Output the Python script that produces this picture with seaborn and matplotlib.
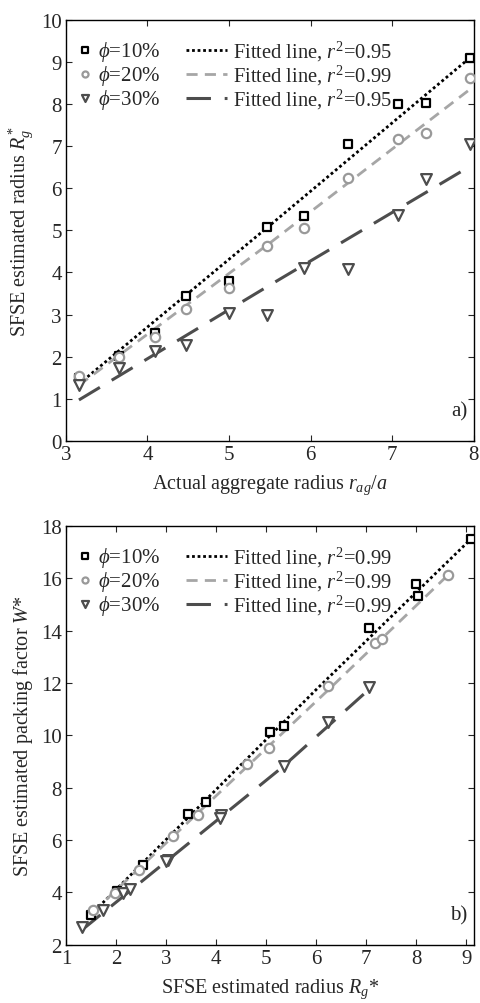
import numpy as np
import pandas as pd
import matplotlib
matplotlib.use("Agg")
import matplotlib.pyplot as plt
import seaborn as sns

# ── Data ─────────────────────────────────────────────────────────────────────
r_ag = [3.16, 3.65, 4.09, 4.47, 5.0, 5.47, 5.92, 6.46, 7.07, 7.42, 7.95]

rg_10 = [1.50, 2.02, 2.55, 3.44, 3.80, 5.08, 5.35, 7.05, 8.00, 8.03, 9.09]
rg_20 = [1.55, 1.98, 2.47, 3.14, 3.64, 4.62, 5.05, 6.24, 7.18, 7.32, 8.63]
rg_30 = [1.32, 1.74, 2.14, 2.28, 3.04, 3.00, 4.10, 4.08, 5.36, 6.23, 7.05]

w_10 = [3.12, 4.07, 5.03, 7.00, 7.45, 10.14, 10.37, 14.09, 15.78, 15.33, 17.52]
w_20 = [3.31, 3.98, 4.86, 6.17, 6.97, 8.91, 9.52, 11.90, 13.55, 13.68, 16.12]
w_30 = [2.67, 3.31, 3.98, 4.14, 5.25, 5.20, 6.95, 6.85, 8.85, 10.50, 11.85]

# fitted lines (end / mid points as drawn)
fit_a_x = [3.16, 5.5, 7.95]
fit_a_10 = [1.35, 5.12, 9.10]
fit_a_20 = [1.32, 4.70, 8.35]
fit_a_30 = [0.97, 3.70, 6.52]

fit_b_10_x = [1.50, 6.00, 9.09]
fit_b_10 = [3.15, 11.75, 17.50]
fit_b_20_x = [1.54, 6.26, 8.63]
fit_b_20 = [3.25, 11.77, 16.12]
fit_b_30_x = [1.31, 5.32, 7.08]
fit_b_30 = [2.55, 8.78, 11.80]

r2_a = ["0.95", "0.99", "0.95"]
r2_b = ["0.99", "0.99", "0.99"]
phi_labels = [r"$\phi$=10%", r"$\phi$=20%", r"$\phi$=30%"]

# ── Style ────────────────────────────────────────────────────────────────────
sns.set_style("ticks")
plt.rcParams["font.family"] = ["Liberation Serif", "DejaVu Serif"]
plt.rcParams["mathtext.fontset"] = "custom"
plt.rcParams["mathtext.rm"] = "Liberation Serif"
plt.rcParams["mathtext.it"] = "Liberation Serif:italic"
plt.rcParams["font.size"] = 15

MARKERS = ["s", "o", "v"]
MCOLORS = ["#000000", "#999999", "#4d4d4d"]
MSIZES = [38, 45, 60]
LCOLORS = ["#000000", "#a6a6a6", "#4d4d4d"]
LSTYLES = [(0, (1, 1)), (0, (4, 2.6)), (0, (8, 4.5))]
LWIDTHS = [2.0, 2.0, 2.2]


def draw_panel(ax, xs, ys, fits, r2, xlim, ylim, xticks, yticks, xlabel, ylabel, tag):
    for i in range(3):
        df = pd.DataFrame({"x": xs[i], "y": ys[i]})
        sns.scatterplot(data=df, x="x", y="y", ax=ax, marker=MARKERS[i], s=MSIZES[i],
                        facecolor="white", edgecolor=MCOLORS[i], linewidth=1.6,
                        label=phi_labels[i], zorder=3)
    for i in range(3):
        fx, fy = fits[i]
        sns.lineplot(x=fx, y=fy, ax=ax, color=LCOLORS[i], linestyle=LSTYLES[i],
                     linewidth=LWIDTHS[i], label=f"Fitted line, $r^2$={r2[i]}", zorder=2)

    handles, labels = ax.get_legend_handles_labels()
    leg1 = ax.legend(handles[:3], labels[:3], loc="upper left", frameon=False,
                     bbox_to_anchor=(-0.02, 1.0), handlelength=0.8, handletextpad=0.25,
                     labelspacing=0.0, borderaxespad=0.5, fontsize=15, markerscale=0.65)
    ax.add_artist(leg1)
    ax.legend(handles[3:], labels[3:], loc="upper left", frameon=False,
              bbox_to_anchor=(0.25, 1.0), handlelength=2.0, handletextpad=0.25,
              labelspacing=0.0, borderaxespad=0.5, fontsize=14.8)

    ax.set_xlim(*xlim)
    ax.set_ylim(*ylim)
    ax.set_xticks(xticks)
    ax.set_yticks(yticks)
    ax.set_xlabel(xlabel, fontsize=14.5, labelpad=6)
    ax.set_ylabel(ylabel, fontsize=14.5)
    ax.tick_params(direction="in", top=True, right=True, length=4, width=0.8,
                   labelsize=15, pad=3)
    for sp in ax.spines.values():
        sp.set_visible(True)
        sp.set_linewidth(1.0)
        sp.set_color("black")
    ax.text(0.985, 0.048, tag, transform=ax.transAxes, ha="right", va="bottom", fontsize=15)


fig = plt.figure(figsize=(4.81, 10.04), dpi=100)
ax1 = fig.add_axes([0.137, 0.560, 0.848, 0.419])
ax2 = fig.add_axes([0.137, 0.058, 0.848, 0.417])

draw_panel(ax1, [r_ag, r_ag, r_ag], [rg_10, rg_20, rg_30],
           [(fit_a_x, fit_a_10), (fit_a_x, fit_a_20), (fit_a_x, fit_a_30)], r2_a,
           (3, 8), (0, 10), range(3, 9), range(0, 11),
           r"Actual aggregate radius $r_{ag}/a$", r"SFSE estimated radius $R_g^*$", "a)")

draw_panel(ax2, [rg_10, rg_20, rg_30], [w_10, w_20, w_30],
           [(fit_b_10_x, fit_b_10), (fit_b_20_x, fit_b_20), (fit_b_30_x, fit_b_30)], r2_b,
           (1, 9.15), (2, 18), range(1, 10), range(2, 19, 2),
           r"SFSE estimated radius $R_g$*", r"SFSE estimated packing factor $W$*", "b)")

fig.savefig("out.png", dpi=100)
